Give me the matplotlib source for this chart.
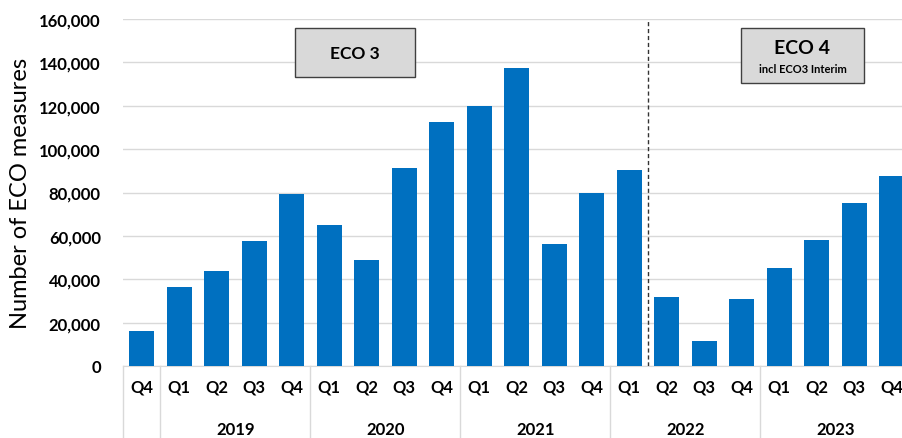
import matplotlib
matplotlib.use("Agg")
import matplotlib.pyplot as plt
from matplotlib.patches import Rectangle
from matplotlib.transforms import blended_transform_factory
from matplotlib.ticker import FuncFormatter

# Datos
quarters = ["Q4",
            "Q1", "Q2", "Q3", "Q4",
            "Q1", "Q2", "Q3", "Q4",
            "Q1", "Q2", "Q3", "Q4",
            "Q1", "Q2", "Q3", "Q4",
            "Q1", "Q2", "Q3", "Q4"]
years = ["2019", "2020", "2021", "2022", "2023"]
measures = [16000,
            36500, 43800, 57600, 79200,
            65000, 48900, 91400, 112300,
            119900, 137500, 56200, 79800,
            90400, 31800, 11700, 30900,
            45200, 58100, 75200, 87600]

plt.rcParams["font.family"] = ["Lato", "DejaVu Sans"]

fig = plt.figure(figsize=(9.02, 4.39), dpi=100)
ax = fig.add_axes([123 / 902, 72 / 439, 787.5 / 902, 347 / 439])

x = list(range(len(measures)))
ax.bar(x, measures, width=0.67, color="#0070C0", zorder=3)

ax.set_xlim(-0.5, len(measures) - 0.5)
ax.set_ylim(0, 160000)
ax.set_yticks(range(0, 160001, 20000))
ax.yaxis.set_major_formatter(FuncFormatter(lambda v, p: f"{int(v):,}"))
ax.grid(axis="y", color="#d9d9d9", linewidth=1, zorder=0)
for s in ["top", "right", "left"]:
    ax.spines[s].set_visible(False)
ax.spines["bottom"].set_color("#d9d9d9")
ax.tick_params(axis="y", length=0, pad=16, labelsize=12)
for lbl in ax.get_yticklabels():
    lbl.set_fontweight("bold")

ax.set_xticks(x)
ax.set_xticklabels(quarters, fontsize=12, fontweight="bold")
ax.tick_params(axis="x", length=0, pad=9)

ax.set_ylabel("Number of ECO measures", fontsize=17, labelpad=6)

# separadores de anio y etiquetas
trans = blended_transform_factory(ax.transData, fig.transFigure)
bounds = [-0.5, 0.5, 4.5, 8.5, 12.5, 16.5]
for b in bounds:
    ax.plot([b, b], [72 / 439, 0], transform=trans, color="#d9d9d9",
            linewidth=1, clip_on=False)
for i, yr in enumerate(years):
    ax.text(2.5 + 4 * i, 9 / 439, yr, transform=trans, ha="center",
            va="center", fontsize=12, fontweight="bold")

# linea ECO3 / ECO4
ax.axvline(13.5, color="#333333", linestyle=(0, (3, 2)), linewidth=1, zorder=4)

# cajas
ax.add_patch(Rectangle((4.09, 133200), 3.2, 22600, facecolor="#d9d9d9",
                       edgecolor="#404040", linewidth=1, zorder=5))
ax.text(5.69, 144500, "ECO 3", ha="center", va="center", fontsize=12.5,
        fontweight="bold", zorder=6)
ax.add_patch(Rectangle((15.98, 130500), 3.28, 25300, facecolor="#d9d9d9",
                       edgecolor="#404040", linewidth=1, zorder=5))
ax.text(17.62, 147000, "ECO 4", ha="center", va="center", fontsize=14,
        fontweight="bold", zorder=6)
ax.text(17.62, 137200, "incl ECO3 Interim", ha="center", va="center",
        fontsize=8, fontweight="bold", zorder=6)

fig.savefig("out.png", dpi=100)
